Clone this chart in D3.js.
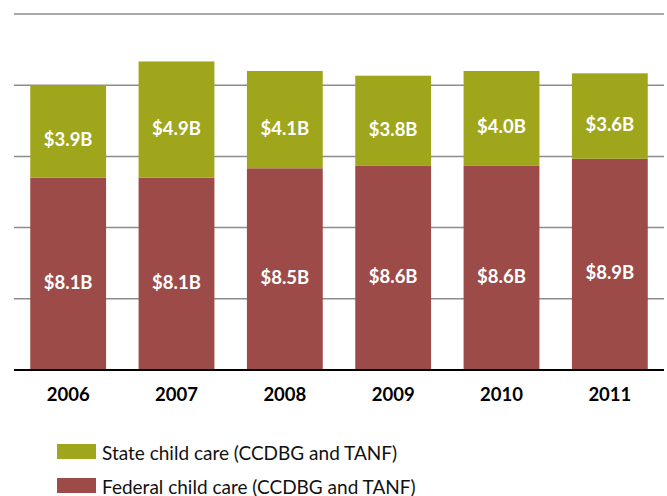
<!DOCTYPE html>
<html>
<head>
<meta charset="utf-8">
<script src="https://cdn.jsdelivr.net/npm/d3@7"></script>
<style>
  body { margin: 0; padding: 0; background: #fff; }
  svg { display: block; font-family: Lato, "Open Sans", sans-serif; }
</style>
</head>
<body>
<svg id="chart" width="667" height="496"></svg>
<script>
// data
var years = ["2006", "2007", "2008", "2009", "2010", "2011"];
var federal = [8.1, 8.1, 8.5, 8.6, 8.6, 8.9];
var state = [3.9, 4.9, 4.1, 3.8, 4.0, 3.6];
var gridTicks = [3, 6, 9, 12, 15];
var seriesNames = ["State child care (CCDBG and TANF)", "Federal child care (CCDBG and TANF)"];
var seriesColors = ["#a0a61b", "#9c4b49"];

var svg = d3.select("#chart");

var x = d3.scaleBand().domain(years).range([14, 664]).paddingInner(0.3).paddingOuter(0.15);
var y = d3.scaleLinear().domain([0, 15]).range([370, 14]);

// gridlines
svg.append("g").selectAll("line").data(gridTicks).join("line")
  .attr("x1", 14).attr("x2", 664)
  .attr("y1", function(d) { return y(d); })
  .attr("y2", function(d) { return y(d); })
  .attr("stroke", "#8c8c8c").attr("stroke-width", 1.5);

var rows = years.map(function(yr, i) { return { year: yr, federal: federal[i], state: state[i] }; });
var stack = d3.stack().keys(["federal", "state"])(rows);
var colorFor = { federal: seriesColors[1], state: seriesColors[0] };

stack.forEach(function(layer) {
  var g = svg.append("g");
  g.selectAll("rect").data(layer).join("rect")
    .attr("x", function(d) { return x(d.data.year); })
    .attr("width", x.bandwidth())
    .attr("y", function(d) { return y(d[1]); })
    .attr("height", function(d) { return y(d[0]) - y(d[1]); })
    .attr("fill", colorFor[layer.key]);
  g.selectAll("text").data(layer).join("text")
    .attr("x", function(d) { return x(d.data.year) + x.bandwidth() / 2; })
    .attr("y", function(d) { return (y(d[0]) + y(d[1])) / 2 + 8; })
    .attr("text-anchor", "middle")
    .attr("dominant-baseline", "central")
    .attr("fill", "#fff")
    .attr("font-weight", "bold")
    .attr("font-size", "18.5px")
    .text(function(d) { return "$" + (d[1] - d[0]).toFixed(1) + "B"; });
});

// baseline
svg.append("line").attr("x1", 14).attr("x2", 664)
  .attr("y1", y(0)).attr("y2", y(0))
  .attr("stroke", "#000").attr("stroke-width", 2);

// year labels
var xAxis = svg.append("g").attr("transform", "translate(0," + y(0) + ")")
  .call(d3.axisBottom(x).tickSize(0).tickPadding(18));
xAxis.select(".domain").remove();
xAxis.selectAll("text").attr("font-size", "18.5px").attr("font-weight", "bold")
  .attr("fill", "#000").attr("font-family", "Lato, 'Open Sans', sans-serif");

// legend
var legend = svg.append("g").selectAll("g").data(seriesNames).join("g")
  .attr("transform", function(d, i) { return "translate(57," + (444 + i * 34) + ")"; });
legend.append("rect").attr("width", 39).attr("height", 15)
  .attr("fill", function(d, i) { return seriesColors[i]; });
legend.append("text").attr("x", 45).attr("y", 8).attr("dominant-baseline", "central")
  .attr("font-size", "19px").attr("fill", "#111")
  .text(function(d) { return d; });
</script>
</body>
</html>
